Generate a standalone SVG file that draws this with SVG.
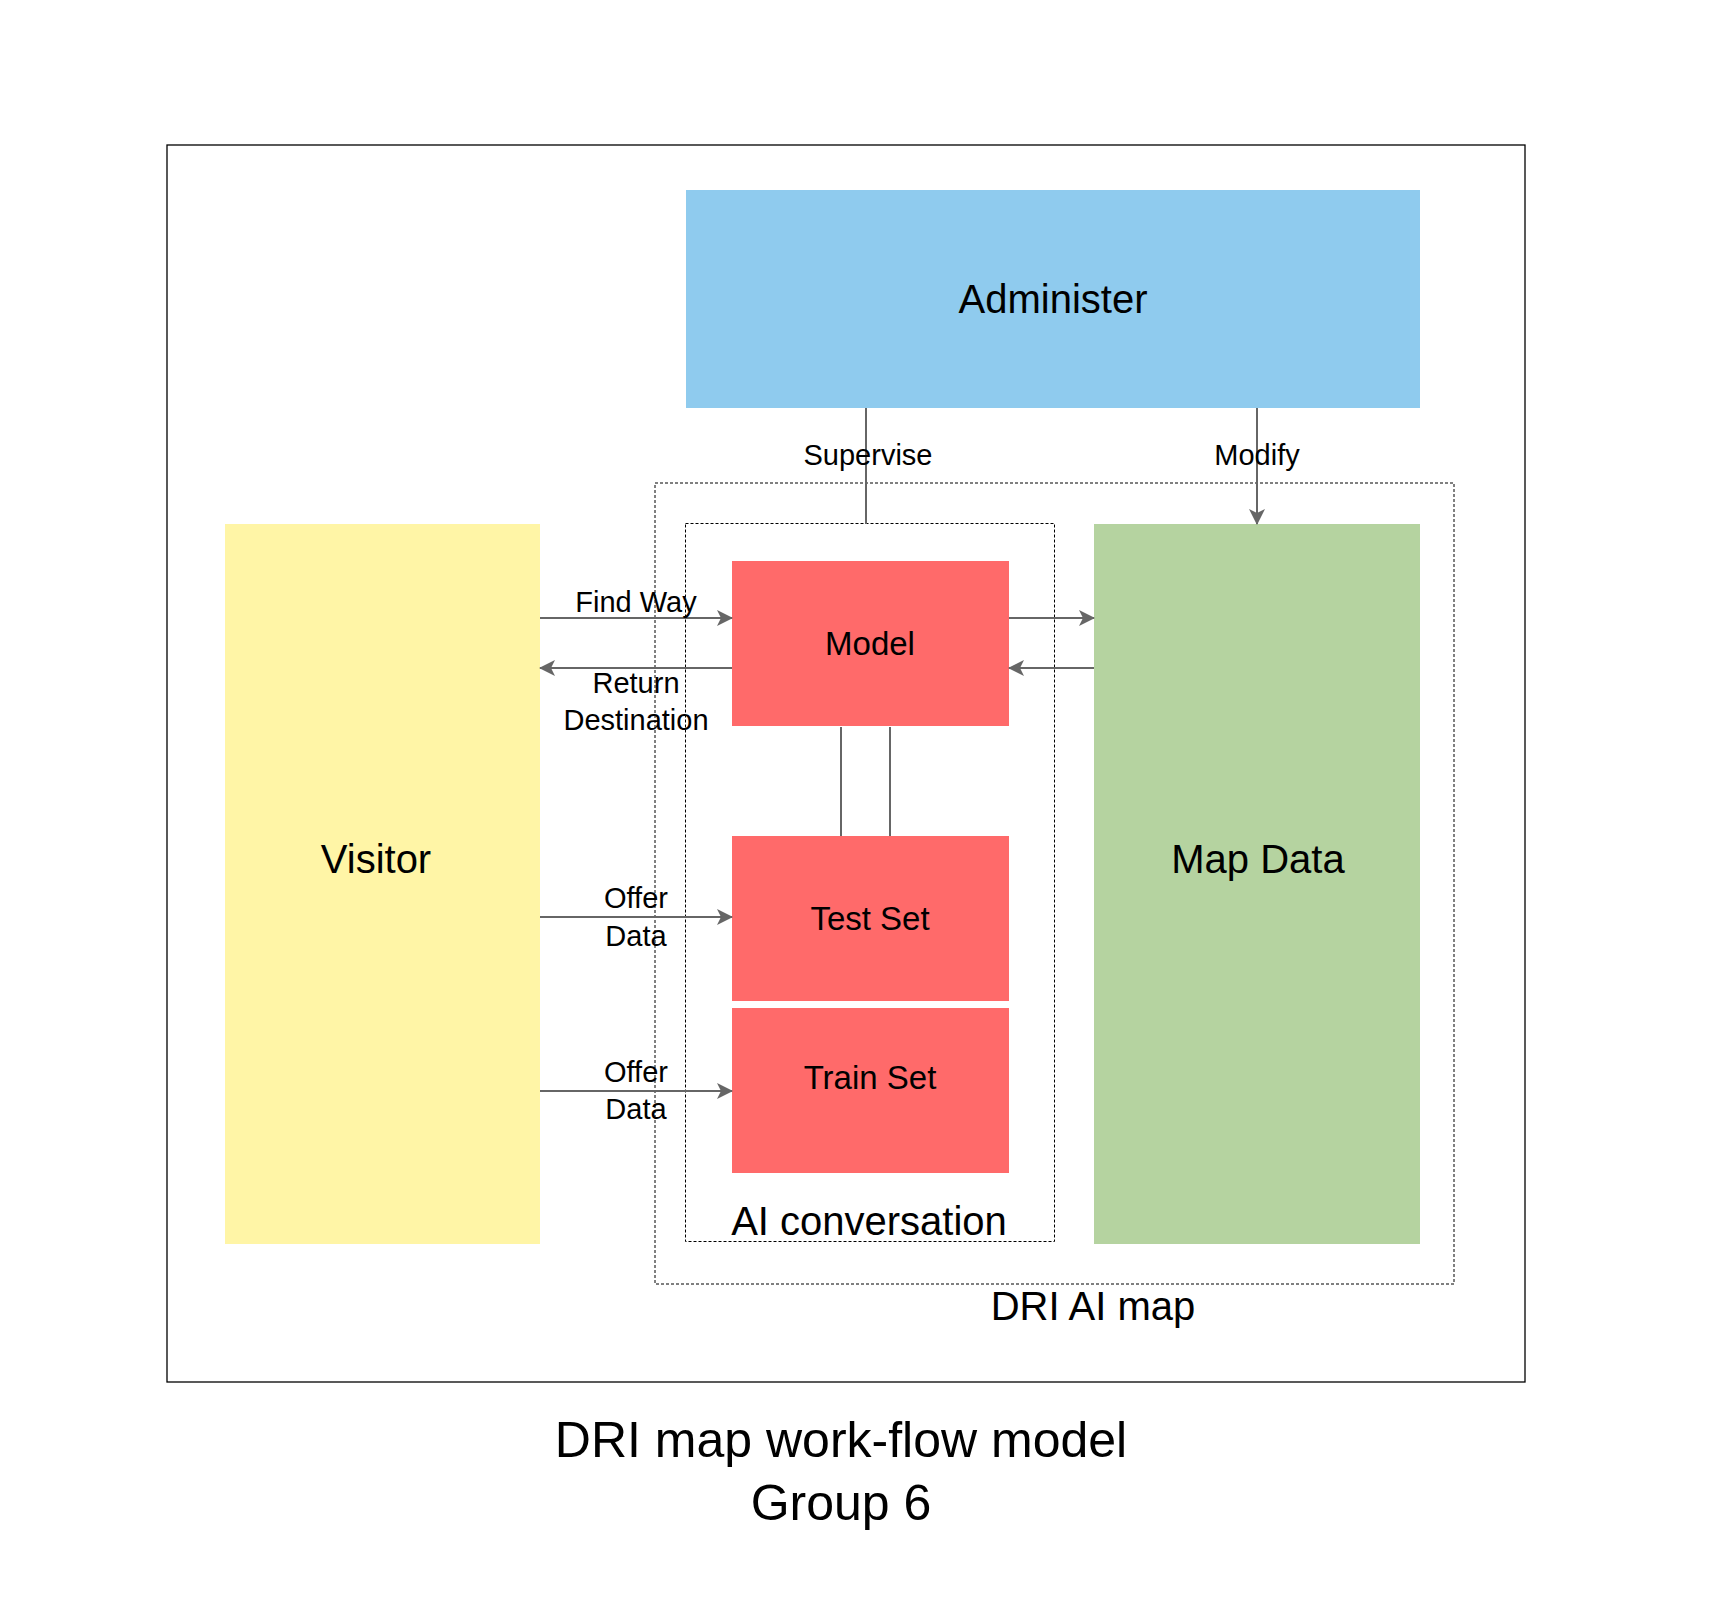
<svg xmlns="http://www.w3.org/2000/svg" width="1729" height="1618" viewBox="0 0 1729 1618">
<style>
text { font-family: "Liberation Sans", Arial, sans-serif; fill: #000; }
.big { font-size: 40px; text-anchor: middle; }
.mid { font-size: 33px; text-anchor: middle; }
.lbl { font-size: 29px; text-anchor: middle; }
.title { font-size: 50px; text-anchor: middle; }
.dash { fill: none; stroke: #000; stroke-width: 1; stroke-dasharray: 3 2; }
.conn { fill: none; stroke: #666; stroke-width: 2; }
.red { fill: #FF6A6A; }
</style>
<defs>
<marker id="arr" viewBox="0 0 16 16" refX="15" refY="8" markerWidth="16" markerHeight="16" markerUnits="userSpaceOnUse" orient="auto">
<path d="M0,0 L16,8 L0,16 L4,8 Z" fill="#666"/>
</marker>
</defs>
<rect width="1729" height="1618" fill="#fff"/>
<g id="frame"><rect x="167" y="145" width="1358" height="1237" fill="none" stroke="#000" stroke-width="1.3"/></g>
<g id="dri-ai-map"><rect class="dash" x="655" y="483" width="799" height="801"/><text class="big" x="1093" y="1320">DRI AI map</text></g>
<g id="ai-conversation"><rect class="dash" x="685.5" y="523.5" width="369" height="718"/><text class="big" x="869" y="1235">AI conversation</text></g>
<g id="administer"><rect x="686" y="190" width="734" height="218" fill="#8FCBEE"/><text class="big" x="1053" y="313">Administer</text></g>
<g id="visitor"><rect x="225" y="524" width="315" height="720" fill="#FFF5A6"/><text class="big" x="376" y="873">Visitor</text></g>
<g id="map-data"><rect x="1094" y="524" width="326" height="720" fill="#B5D3A0"/><text class="big" x="1258" y="873">Map Data</text></g>
<g id="model"><rect class="red" x="732" y="561" width="277" height="165"/><text class="mid" x="870" y="655">Model</text></g>
<g id="test-set"><rect class="red" x="732" y="836" width="277" height="165"/><text class="mid" x="870" y="930">Test Set</text></g>
<g id="train-set"><rect class="red" x="732" y="1008" width="277" height="165"/><text class="mid" x="870" y="1089">Train Set</text></g>
<g id="connectors">
<line class="conn" x1="866" y1="408" x2="866" y2="524"/>
<line class="conn" x1="1257" y1="408" x2="1257" y2="524" marker-end="url(#arr)"/>
<line class="conn" x1="540" y1="618" x2="732" y2="618" marker-end="url(#arr)"/>
<line class="conn" x1="732" y1="668" x2="540" y2="668" marker-end="url(#arr)"/>
<line class="conn" x1="1009" y1="618" x2="1094" y2="618" marker-end="url(#arr)"/>
<line class="conn" x1="1094" y1="668" x2="1009" y2="668" marker-end="url(#arr)"/>
<line class="conn" x1="540" y1="917" x2="732" y2="917" marker-end="url(#arr)"/>
<line class="conn" x1="540" y1="1091" x2="732" y2="1091" marker-end="url(#arr)"/>
<line class="conn" x1="841" y1="727" x2="841" y2="836"/>
<line class="conn" x1="890" y1="727" x2="890" y2="836"/>
<text class="lbl" x="868" y="465">Supervise</text>
<text class="lbl" x="1257" y="465">Modify</text>
<text class="lbl" x="636" y="612">Find Way</text>
<text class="lbl" x="636" y="693">Return</text>
<text class="lbl" x="636" y="730">Destination</text>
<text class="lbl" x="636" y="908">Offer</text>
<text class="lbl" x="636" y="946">Data</text>
<text class="lbl" x="636" y="1082">Offer</text>
<text class="lbl" x="636" y="1119">Data</text>
</g>
<g id="title">
<text class="title" x="841" y="1457">DRI map work-flow model</text>
<text class="title" x="841" y="1520">Group 6</text>
</g>
</svg>
